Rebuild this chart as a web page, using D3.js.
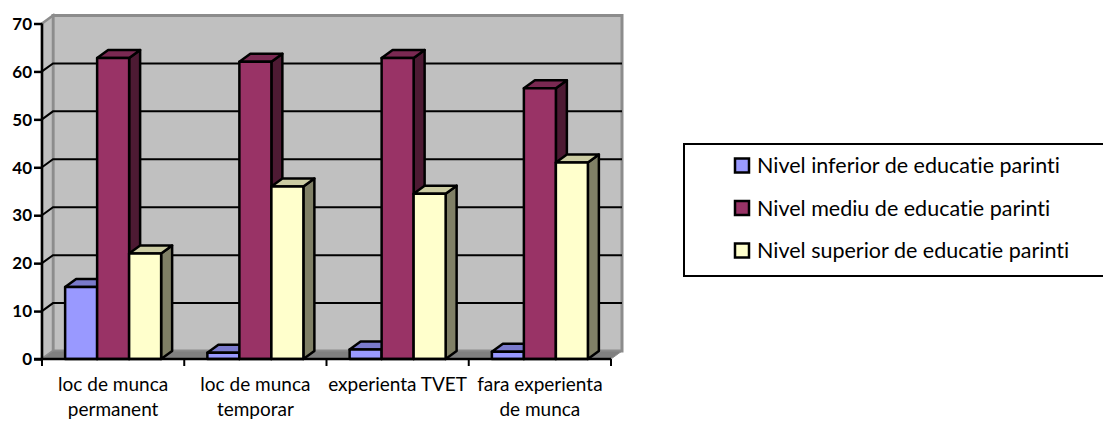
<!DOCTYPE html>
<html><head><meta charset="utf-8">
<script src="https://cdn.jsdelivr.net/npm/d3@7"></script>
<style>html,body{margin:0;padding:0;background:#fff;overflow:hidden}svg{display:block}text{font-family:Lato,sans-serif;fill:#000;font-variant-ligatures:none;font-feature-settings:"liga" 0}</style>
</head><body><svg id="c" width="1103" height="421"></svg>
<script>
const categories = [["loc de munca","permanent"],["loc de munca","temporar"],["experienta TVET"],["fara experienta","de munca"]];
const seriesNames = ["Nivel inferior de educatie parinti","Nivel mediu de educatie parinti","Nivel superior de educatie parinti"];
const inferior = [15, 1.3, 2, 1.5];
const mediu = [62.8, 62, 62.8, 56.5];
const superior = [22, 36, 34.5, 41];
const yTicks = [0,10,20,30,40,50,60,70];
const frontColors = ["#9999ff","#993366","#ffffcc"];
const topColors = ["#7a7acc","#7a2952","#cccca3"];
const sideColors = ["#5c5c99","#4d1a33","#808066"];

const svg = d3.select("#c");
const L=42,R=611,T=23.5,B=359,dx=11,dy=-8;
const y = d3.scaleLinear().domain([0,70]).range([B,T]);
const x0 = d3.scaleBand().domain(d3.range(4)).range([L,R]);
const groupW = 96;
const x1 = d3.scaleBand().domain([0,1,2]).range([0,groupW]);
const poly = pts => pts.map(p=>p.join(",")).join(" ");

// walls
svg.append("polygon").attr("points",poly([[L+dx,T+dy],[R+dx,T+dy],[R+dx,B+dy],[L+dx,B+dy]])).attr("fill","#c0c0c0").attr("stroke","#8c8c8c").attr("stroke-width",3);
svg.append("polygon").attr("points",poly([[L,T],[L+dx,T+dy],[L+dx,B+dy],[L,B]])).attr("fill","#c0c0c0").attr("stroke","#8c8c8c").attr("stroke-width",2.5);
svg.append("polygon").attr("points",poly([[L,B],[L+dx,B+dy],[R+dx,B+dy],[R,B]])).attr("fill","#808080").attr("stroke","#8c8c8c").attr("stroke-width",1);

// grid
yTicks.slice(1,-1).forEach(t=>{
  svg.append("polyline").attr("points",poly([[L,y(t)],[L+dx,y(t)+dy],[R+dx,y(t)+dy]])).attr("fill","none").attr("stroke","#000").attr("stroke-width",2);
});

// bars
const series=[inferior,mediu,superior];
d3.range(4).forEach(c=>{
  const gx = x0(c)+(x0.bandwidth()-groupW)/2;
  series.forEach((vals,s)=>{
    const xa=gx+x1(s), xb=xa+x1.bandwidth(), yt=y(vals[c]);
    const st={stroke:"#000","stroke-width":2.5,"stroke-linejoin":"round"};
    const add=(pts,fill)=>{const p=svg.append("polygon").attr("points",poly(pts)).attr("fill",fill);Object.entries(st).forEach(([k,v])=>p.attr(k,v));};
    add([[xb,yt],[xb+dx,yt+dy],[xb+dx,B+dy],[xb,B]],sideColors[s]);
    add([[xa,yt],[xa+dx,yt+dy],[xb+dx,yt+dy],[xb,yt]],topColors[s]);
    add([[xa,yt],[xb,yt],[xb,B],[xa,B]],frontColors[s]);
  });
});

// axes
const yAxis=d3.axisLeft(y).tickValues(yTicks).tickSize(8).tickPadding(2);
const gy=svg.append("g").attr("transform",`translate(${L},0)`).call(yAxis);
gy.selectAll("line,path").attr("stroke","#000").attr("stroke-width",2.5);
gy.selectAll("text").attr("font-size",17).attr("font-weight",700).attr("font-family","Lato,sans-serif").attr("dy","0.34em");
gy.select(".domain").attr("d",`M0,${T}V${B}`);

const xTicks=d3.range(5).map(i=>L+i*x0.step());
svg.append("line").attr("x1",L-8).attr("x2",R).attr("y1",B).attr("y2",B).attr("stroke","#000").attr("stroke-width",2.5);
svg.selectAll(".xt").data(xTicks).join("line").attr("x1",d=>d).attr("x2",d=>d).attr("y1",B).attr("y2",B+7).attr("stroke","#000").attr("stroke-width",2);
categories.forEach((lines,c)=>{
  lines.forEach((t,i)=>{
    svg.append("text").attr("x",x0(c)+x0.bandwidth()/2).attr("y",391+i*25).attr("text-anchor","middle").attr("font-size",19).text(t);
  });
});

// legend
svg.append("rect").attr("x",684).attr("y",144).attr("width",430).attr("height",132).attr("fill","#fff").attr("stroke","#000").attr("stroke-width",2);
const ly=d3.scalePoint().domain([0,1,2]).range([165.5,250.5]);
seriesNames.forEach((n,i)=>{
  svg.append("rect").attr("x",735).attr("y",ly(i)-7).attr("width",14).attr("height",14).attr("fill",frontColors[i]).attr("stroke","#000").attr("stroke-width",2.5);
  svg.append("text").attr("x",757).attr("y",ly(i)+7.5).attr("font-size",21.5).text(n);
});
</script></body></html>
